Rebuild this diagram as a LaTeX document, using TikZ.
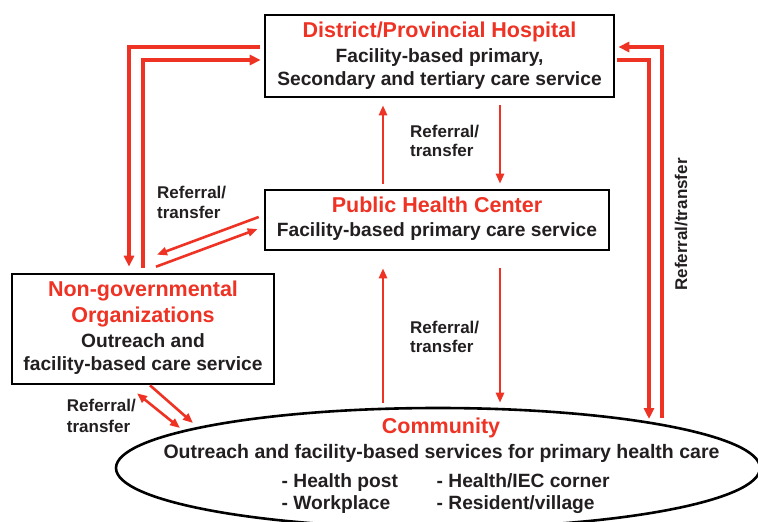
\documentclass[tikz,border=0pt]{standalone}
\usepackage{fontspec}
\setmainfont{Liberation Sans}
\usetikzlibrary{arrows.meta,shapes.geometric}
\definecolor{rd}{HTML}{EE3224}
\definecolor{tx}{HTML}{231F20}
\begin{document}
\begin{tikzpicture}[x=1pt,y=-1pt,
  box/.style={draw=black, line width=2.6pt, inner sep=0pt},
  ttl/.style={text=rd, font=\fontsize{21.5}{25}\selectfont\bfseries, anchor=base, inner sep=0pt},
  sub/.style={text=tx, font=\fontsize{19.2}{24}\selectfont\bfseries, anchor=base, inner sep=0pt},
  lbl/.style={text=tx, font=\fontsize{17}{20}\selectfont\bfseries, anchor=base west, inner sep=0pt},
  thickarr/.style={draw=rd, line width=3.2pt, -{Triangle[length=11pt,width=10pt]}},
  arr/.style={draw=rd, line width=2.6pt, -{Triangle[length=10pt,width=8pt]}},
  dblarr/.style={draw=rd, line width=2.6pt, {Triangle[length=10pt,width=8pt]}-{Triangle[length=10pt,width=8pt]}},
]
\useasboundingbox (0,0) rectangle (758,522);
\begin{scope}
  \clip (0,0) rectangle (758,522);
  \node[box, ellipse, minimum width=644pt, minimum height=120pt] (comm) at (438,468) {};
\end{scope}

% boxes
\node[box, minimum width=349pt, minimum height=82pt] (hosp) at (439.5,56) {};
\node[box, minimum width=344pt, minimum height=60pt] (phc) at (437,220) {};
\node[box, minimum width=262pt, minimum height=110pt] (ngo) at (143,329) {};

% texts
\node[ttl] (hospT) at (439.5,37.3) {District/Provincial Hospital};
\node[sub] (hospA) at (439.5,62.7) {Facility-based primary,};
\node[sub] (hospB) at (439.5,85.5) {Secondary and tertiary care service};
\node[ttl] (phcT) at (437,212.7) {Public Health Center};
\node[sub] (phcA) at (437,236.7) {Facility-based primary care service};
\node[ttl] (ngoT1) at (143,296) {Non-governmental};
\node[ttl] (ngoT2) at (143,322) {Organizations};
\node[sub] (ngoA) at (143,347) {Outreach and};
\node[sub] (ngoB) at (143,370.5) {facility-based care service};
\node[ttl] (commT) at (441,433) {Community};
\node[sub, font=\fontsize{19.5}{24}\selectfont\bfseries] (commA) at (441.5,458) {Outreach and facility-based services for primary health care};
\node[sub, anchor=base west] (cl1) at (281.5,487) {- Health post};
\node[sub, anchor=base west] (cl2) at (281.5,509) {- Workplace};
\node[sub, anchor=base west] (cl3) at (436.5,487) {- Health/IEC corner};
\node[sub, anchor=base west] (cl4) at (436.5,509) {- Resident/village};

% labels
\node[lbl] (la1) at (410,137.7) {Referral/};
\node[lbl] (la2) at (410,156.7) {transfer};
\node[lbl] (lb1) at (410,333.3) {Referral/};
\node[lbl] (lb2) at (410,352.3) {transfer};
\node[lbl] (lc1) at (157,198.3) {Referral/};
\node[lbl] (lc2) at (157,218.3) {transfer};
\node[lbl] (ld1) at (66.7,411.7) {Referral/};
\node[lbl] (ld2) at (66.7,432.7) {transfer};
\node[lbl, rotate=90, anchor=base] (le) at (687,224.5) {Referral/transfer};

% coordinates
\coordinate (pu) at ([xshift=-54pt]phc.north);
\coordinate (pd) at ([xshift=63pt]phc.north);
\coordinate (r1) at (662,418);
\coordinate (r2) at (649,419);
\coordinate (c1) at (180,428);
\coordinate (c2) at (193,423);

% left L arrows
\draw[thickarr] ([shift={(-4pt,9pt)}]hosp.west) -| ([shift={(-14pt,6pt)}]ngo.north);
\draw[thickarr] ([yshift=5pt]ngo.north) |- ([shift={(-3pt,-4pt)}]hosp.west);
% right L arrows
\draw[thickarr] (r1) |- ([shift={(3pt,9pt)}]hosp.east);
\draw[thickarr] ([shift={(2pt,-4pt)}]hosp.east) -| (r2);

% central arrows
\draw[arr, shorten <=5pt, shorten >=7pt] (pu) -- (pu |- hosp.south);
\draw[arr, shorten <=7pt, shorten >=5pt] (pd |- hosp.south) -- (pd);
\draw[arr, shorten <=4pt, shorten >=17pt] (pu |- comm.north) -- (pu |- phc.south);
\draw[arr, shorten <=17pt, shorten >=4pt] (pd |- phc.south) -- (pd |- comm.north);

% NGO - PHC diagonals
\draw[arr] ([shift={(-5pt,3pt)}]phc.west) -- ([shift={(14pt,18pt)}]ngo.north);
\draw[arr] ([shift={(13pt,6pt)}]ngo.north) -- ([shift={(-6pt,-9pt)}]phc.west);

% NGO - community
\draw[dblarr] ([shift={(-6pt,-8pt)}]ngo.south) -- (c1);
\draw[arr] ([shift={(7pt,0pt)}]ngo.south) -- (c2);
\end{tikzpicture}
\end{document}
